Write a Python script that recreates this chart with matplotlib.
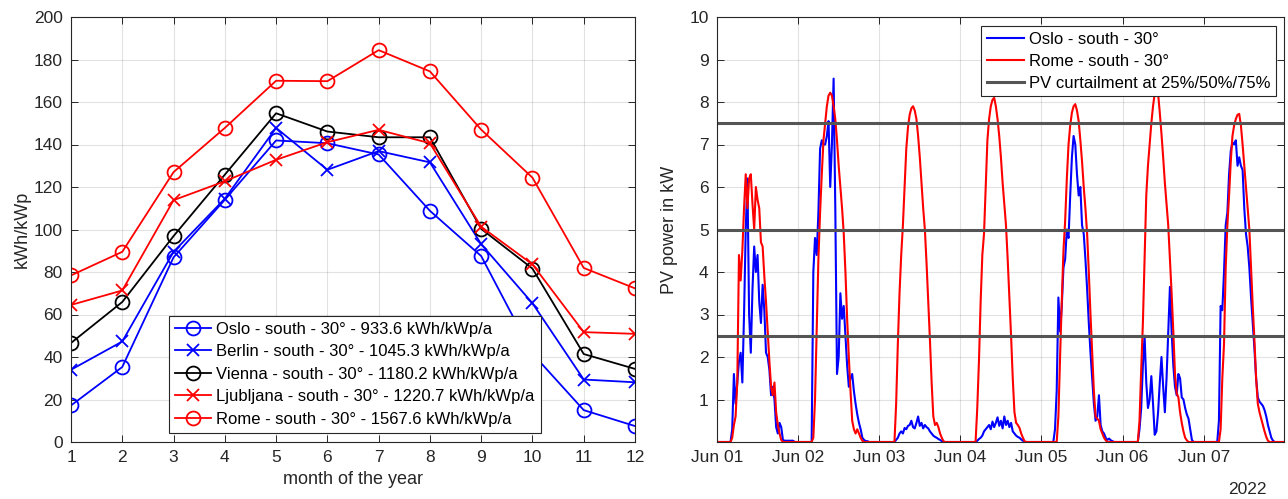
import numpy as np
import pandas as pd
import matplotlib
matplotlib.use("Agg")
import matplotlib.pyplot as plt
import matplotlib.dates as mdates

plt.rcParams["font.family"] = ["Liberation Sans", "DejaVu Sans"]

TXT = "#262626"

# ---- left panel: monthly yield per city ----
months = list(range(1, 13))
oslo_month = [17.2, 35.3, 86.9, 114.0, 141.9, 140.6, 135.3, 108.8, 87.5, 41.6, 15.0, 7.5]
berlin_month = [34.0, 47.3, 89.5, 114.5, 147.8, 128.1, 136.9, 131.6, 93.1, 65.3, 29.4, 28.1]
vienna_month = [46.6, 65.9, 96.9, 125.8, 154.7, 146.1, 143.4, 143.4, 100.3, 81.6, 41.4, 34.4]
ljubljana_month = [64.5, 71.3, 113.8, 122.7, 132.8, 141.1, 146.9, 140.6, 101.3, 83.6, 51.7, 50.9]
rome_month = [78.4, 89.5, 127.0, 147.8, 170.0, 169.8, 184.4, 174.4, 147.0, 124.4, 81.9, 72.3]
left_labels = [
    "Oslo - south - 30° - 933.6 kWh/kWp/a",
    "Berlin - south - 30° - 1045.3 kWh/kWp/a",
    "Vienna - south - 30° - 1180.2 kWh/kWp/a",
    "Ljubljana - south - 30° - 1220.7 kWh/kWp/a",
    "Rome - south - 30° - 1567.6 kWh/kWp/a",
]

# ---- right panel: half-hourly PV power, 1-7 June 2022 (kW) ----
oslo_kw = [
    # Jun 01
    0, 0, 0, 0, 0, 0, 0, 0, 0, 0.3, 1.6, 0.9, 1.4, 1.9, 2.1, 1.4, 3.0, 5.0, 6.2, 3.0, 2.1, 3.6, 4.6, 4.0,
    4.4, 3.3, 2.8, 3.7, 3.1, 2.1, 2.0, 1.7, 1.1, 1.3, 1.0, 0.35, 0.2, 0.45, 0.35, 0.05, 0.03, 0.03, 0.03, 0.03, 0.03, 0.03, 0, 0,
    # Jun 02
    0, 0, 0, 0, 0, 0, 0, 0, 0, 4.0, 4.8, 4.4, 5.4, 6.9, 7.1, 7.0, 7.0, 7.2, 7.55, 6.0, 7.0, 8.55, 5.5, 1.6,
    2.0, 3.5, 2.9, 3.2, 2.5, 1.8, 1.3, 1.5, 1.6, 1.2, 0.9, 0.65, 0.45, 0.3, 0.1, 0.05, 0.02, 0.02, 0, 0, 0, 0, 0, 0,
    # Jun 03
    0, 0, 0, 0, 0, 0, 0, 0, 0, 0, 0.05, 0.1, 0.2, 0.25, 0.2, 0.33, 0.3, 0.38, 0.4, 0.5, 0.35, 0.32, 0.45, 0.6,
    0.38, 0.45, 0.32, 0.4, 0.35, 0.32, 0.25, 0.2, 0.15, 0.12, 0.1, 0.07, 0.05, 0.02, 0, 0, 0, 0, 0, 0, 0, 0, 0, 0,
    # Jun 04
    0, 0, 0, 0, 0, 0, 0, 0, 0, 0, 0.03, 0.07, 0.1, 0.15, 0.25, 0.3, 0.35, 0.4, 0.3, 0.48, 0.35, 0.45, 0.58, 0.38,
    0.5, 0.32, 0.6, 0.4, 0.5, 0.35, 0.45, 0.25, 0.2, 0.15, 0.12, 0.1, 0.06, 0.03, 0, 0, 0, 0, 0, 0, 0, 0, 0, 0,
    # Jun 05
    0, 0, 0, 0, 0, 0, 0, 0, 0.3, 1.2, 3.4, 2.6, 3.2, 4.1, 4.3, 5.0, 4.8, 5.8, 6.7, 7.2, 7.0, 6.3, 5.8, 6.0,
    5.1, 4.9, 4.3, 3.6, 2.8, 2.1, 1.5, 0.9, 0.5, 0.6, 1.1, 0.4, 0.25, 0.2, 0.1, 0.05, 0.08, 0.04, 0.02, 0, 0, 0, 0, 0,
    # Jun 06
    0, 0, 0, 0, 0, 0, 0, 0, 0, 0, 0.3, 0.8, 1.8, 2.5, 1.4, 0.8, 1.0, 1.55, 0.9, 0.17, 0.25, 0.7, 1.4, 2.0,
    1.3, 0.7, 1.5, 2.6, 3.65, 2.6, 1.8, 1.3, 1.1, 1.6, 1.5, 1.05, 1.0, 0.8, 0.65, 0.55, 0.3, 0.05, 0, 0, 0, 0, 0, 0,
    # Jun 07
    0, 0, 0, 0, 0, 0, 0, 0, 0, 0.5, 3.2, 3.1, 4.0, 5.1, 5.4, 6.3, 6.85, 7.05, 7.0, 7.1, 6.5, 6.7, 6.5, 6.4,
    5.5, 4.9, 4.6, 4.1, 3.4, 2.8, 2.2, 1.5, 1.05, 0.95, 0.9, 0.85, 0.75, 0.6, 0.4, 0.25, 0.1, 0.03, 0, 0, 0, 0, 0, 0,
]
rome_kw = [
    # Jun 01
    0, 0, 0, 0, 0, 0, 0, 0, 0, 0.1, 0.4, 0.6, 1.4, 4.4, 3.8, 4.5, 5.5, 6.3, 5.5, 6.2, 6.3, 5.6, 5.0, 6.0,
    5.7, 5.5, 4.7, 4.6, 3.9, 3.3, 2.6, 1.9, 1.3, 1.1, 1.4, 0.7, 0.4, 0.2, 0.05, 0, 0, 0, 0, 0, 0, 0, 0, 0,
    # Jun 02
    0, 0, 0, 0, 0, 0, 0, 0, 0, 0.1, 1.0, 2.7, 4.3, 5.4, 6.3, 7.1, 7.5, 7.9, 8.15, 8.22, 8.15, 7.9, 7.6, 7.1,
    6.5, 6.0, 5.5, 4.9, 4.0, 2.9, 2.0, 1.2, 0.5, 0.3, 0.2, 0.3, 0.2, 0.1, 0.03, 0, 0, 0, 0, 0, 0, 0, 0, 0,
    # Jun 03
    0, 0, 0, 0, 0, 0, 0, 0, 0, 0, 0.9, 2.3, 3.5, 4.4, 5.1, 6.0, 6.9, 7.4, 7.7, 7.85, 7.9, 7.8, 7.6, 7.2,
    6.7, 6.1, 5.5, 5.0, 4.2, 3.3, 2.4, 1.4, 0.6, 0.4, 0.45, 0.35, 0.2, 0.1, 0.02, 0, 0, 0, 0, 0, 0, 0, 0, 0,
    # Jun 04
    0, 0, 0, 0, 0, 0, 0, 0, 0, 0, 0.8, 1.9, 3.3, 4.4, 4.9, 6.0, 7.1, 7.6, 7.9, 8.05, 8.1, 7.9, 7.6, 7.2,
    6.7, 6.1, 5.6, 5.1, 4.3, 3.4, 2.5, 1.5, 0.7, 0.45, 0.4, 0.33, 0.2, 0.1, 0.02, 0, 0, 0, 0, 0, 0, 0, 0, 0,
    # Jun 05
    0, 0, 0, 0, 0, 0, 0, 0, 0, 0, 0.6, 2.0, 3.3, 4.5, 5.2, 6.2, 7.0, 7.45, 7.75, 7.9, 7.95, 7.8, 7.55, 7.1,
    6.6, 6.0, 5.5, 4.9, 4.0, 3.0, 2.1, 1.2, 0.6, 0.55, 0.5, 0.3, 0.2, 0.1, 0.04, 0, 0, 0, 0, 0, 0, 0, 0, 0,
    # Jun 06
    0, 0, 0, 0, 0, 0, 0, 0, 0, 0, 0.5, 1.7, 2.8, 4.3, 5.8, 6.5, 7.0, 7.5, 7.9, 8.2, 8.35, 8.2, 7.75, 7.25,
    6.7, 6.1, 5.6, 5.1, 4.3, 3.5, 2.6, 1.6, 1.15, 1.05, 0.7, 0.45, 0.25, 0.1, 0.04, 0, 0, 0, 0, 0, 0, 0, 0, 0,
    # Jun 07
    0, 0, 0, 0, 0, 0, 0, 0, 0, 0, 0.3, 1.5, 2.3, 4.1, 5.1, 5.8, 6.6, 7.2, 7.45, 7.6, 7.7, 7.72, 7.45, 7.0,
    6.5, 6.0, 5.5, 5.0, 4.1, 3.2, 2.4, 1.5, 0.9, 0.7, 0.55, 0.4, 0.25, 0.12, 0.03, 0, 0, 0, 0, 0, 0, 0, 0, 0,
]
curtail_levels = [2.5, 5.0, 7.5]
right_labels = ["Oslo - south - 30°", "Rome - south - 30°", "PV curtailment at 25%/50%/75%"]

times = pd.date_range("2022-06-01", periods=len(oslo_kw), freq="30min")


def style_axes(ax):
    ax.grid(True, color=TXT, alpha=0.13, linewidth=0.8)
    ax.set_axisbelow(True)
    ax.tick_params(direction="in", top=True, right=True, length=5, width=0.7,
                   colors=TXT, labelsize=12.5, pad=6)
    for sp in ax.spines.values():
        sp.set_color(TXT)
        sp.set_linewidth(0.8)


fig = plt.figure(figsize=(12.88, 4.99), dpi=100)
ax1 = fig.add_axes([71 / 1288, 57 / 499, 564 / 1288, 425 / 499])
ax2 = fig.add_axes([717 / 1288, 57 / 499, 567 / 1288, 425 / 499])

# left
mk = dict(markerfacecolor="none", linewidth=1.3, markeredgewidth=1.3)
ax1.plot(months, oslo_month, "-o", color="b", markersize=10, label=left_labels[0], **mk)
ax1.plot(months, berlin_month, "-x", color="b", markersize=8, label=left_labels[1], **mk)
ax1.plot(months, vienna_month, "-o", color="k", markersize=10, label=left_labels[2], **mk)
ax1.plot(months, ljubljana_month, "-x", color="r", markersize=8, label=left_labels[3], **mk)
ax1.plot(months, rome_month, "-o", color="r", markersize=10, label=left_labels[4], **mk)
ax1.set_xlim(1, 12)
ax1.set_ylim(0, 200)
ax1.set_xticks(months)
ax1.set_yticks(range(0, 201, 20))
ax1.set_xlabel("month of the year", fontsize=13, color=TXT, labelpad=4)
ax1.set_ylabel("kWh/kWp", fontsize=13, color=TXT, labelpad=2)
style_axes(ax1)
leg1 = ax1.legend(loc="lower center", bbox_to_anchor=(0.503, 0.022), fontsize=12,
                  handlelength=2.2, handletextpad=0.3, labelspacing=0.45,
                  borderpad=0.35, borderaxespad=0, fancybox=False, framealpha=1, edgecolor=TXT)
leg1.get_frame().set_linewidth(0.8)

# right
ax2.plot(times, oslo_kw, color="b", linewidth=1.5, label=right_labels[0])
ax2.plot(times, rome_kw, color="r", linewidth=1.5, label=right_labels[1])
for i, lvl in enumerate(curtail_levels):
    ax2.axhline(lvl, color="#555555", linewidth=2.2,
                label=right_labels[2] if i == 0 else None)
ax2.set_xlim(pd.Timestamp("2022-06-01"), pd.Timestamp("2022-06-07 23:45"))
ax2.set_ylim(0, 10)
ax2.set_yticks(range(1, 11))
ax2.xaxis.set_major_locator(mdates.DayLocator())
ax2.xaxis.set_major_formatter(mdates.DateFormatter("%b %d"))
ax2.set_ylabel("PV power in kW", fontsize=13, color=TXT, labelpad=8)
style_axes(ax2)
ax2.text(0.97, -0.095, "2022", transform=ax2.transAxes, ha="right", va="top",
         fontsize=12.5, color=TXT)
leg2 = ax2.legend(loc="upper right", bbox_to_anchor=(0.986, 0.978), fontsize=12,
                  handlelength=2.2, handletextpad=0.3, labelspacing=0.4,
                  borderpad=0.35, borderaxespad=0, fancybox=False, framealpha=1, edgecolor=TXT)
leg2.get_frame().set_linewidth(0.8)

fig.savefig("out.png", dpi=100)
